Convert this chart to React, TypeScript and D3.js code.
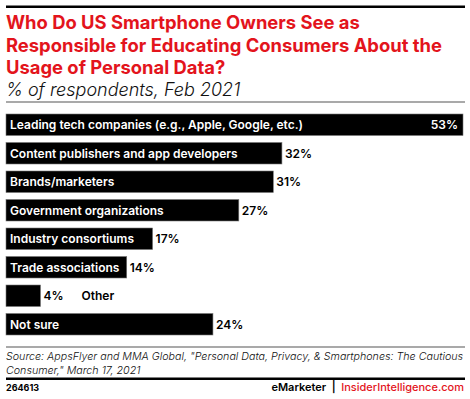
import { useEffect, useRef } from 'react'
import * as d3 from 'd3'

const TITLE_LINES = [
  'Who Do US Smartphone Owners See as',
  'Responsible for Educating Consumers About the',
  'Usage of Personal Data?',
]
const SUBTITLE = '% of respondents, Feb 2021'

const CATEGORIES = [
  'Leading tech companies (e.g., Apple, Google, etc.)',
  'Content publishers and app developers',
  'Brands/marketers',
  'Government organizations',
  'Industry consortiums',
  'Trade associations',
  'Other',
  'Not sure',
]
const VALUES = [53, 32, 31, 27, 17, 14, 4, 24]

const SOURCE_LINES = [
  'Source: AppsFlyer and MMA Global, "Personal Data, Privacy, & Smartphones: The Cautious',
  'Consumer," March 17, 2021',
]
const CHART_ID = '264613'

const W = 470
const H = 399
const RED = '#e3141c'
const FONT = 'Inter, Roboto, sans-serif'

export default function App() {
  const svgRef = useRef<SVGSVGElement>(null)

  useEffect(() => {
    if (!svgRef.current) return
    const svg = d3.select(svgRef.current)
    svg.selectAll('*').remove()

    // header rules
    svg.append('rect').attr('x', 6).attr('y', 5.5).attr('width', 459).attr('height', 2.5).attr('fill', '#000')

    svg.selectAll('text.title')
      .data(TITLE_LINES)
      .join('text')
      .attr('class', 'title')
      .attr('x', 6)
      .attr('y', (d, i) => 29 + i * 22.5)
      .attr('fill', RED)
      .attr('font-family', FONT)
      .attr('font-size', 18.4)
      .attr('font-weight', 700)
      .text((d) => d)

    svg.append('text')
      .attr('x', 6).attr('y', 96)
      .attr('font-family', FONT).attr('font-size', 18).attr('font-style', 'italic').attr('font-weight', 300)
      .attr('fill', '#111')
      .text(SUBTITLE)

    svg.append('rect').attr('x', 6).attr('y', 101.5).attr('width', 459).attr('height', 1).attr('fill', '#555')

    // bars
    const x = d3.scaleLinear().domain([0, d3.max(VALUES) as number]).range([6, 463])
    const y = d3.scaleBand().domain(CATEGORIES).range([114, 335]).paddingInner(0.2456).paddingOuter(0)

    const rows = CATEGORIES.map((c, i) => ({ cat: c, val: VALUES[i], inside: VALUES[i] >= 5 }))

    const g = svg.append('g')
    g.selectAll('rect.bar')
      .data(rows)
      .join('rect')
      .attr('class', 'bar')
      .attr('x', x(0))
      .attr('y', (d) => y(d.cat) as number)
      .attr('width', (d) => x(d.val) - x(0))
      .attr('height', y.bandwidth())
      .attr('fill', '#000')
      .attr('stroke', '#777')
      .attr('stroke-width', 0.6)

    // category labels inside bars
    g.selectAll('text.cat')
      .data(rows.filter((d) => d.inside))
      .join('text')
      .attr('class', 'cat')
      .attr('x', 10)
      .attr('y', (d) => (y(d.cat) as number) + y.bandwidth() / 2)
      .attr('dy', '0.36em')
      .attr('fill', '#fff')
      .attr('font-family', FONT).attr('font-size', 12).attr('font-weight', 600)
      .text((d) => d.cat)

    // value labels
    const maxVal = d3.max(VALUES) as number
    g.selectAll('text.val')
      .data(rows)
      .join('text')
      .attr('class', 'val')
      .attr('x', (d) => (d.val === maxVal ? x(d.val) - 5 : x(d.val) + 3))
      .attr('y', (d) => (y(d.cat) as number) + y.bandwidth() / 2)
      .attr('dy', '0.36em')
      .attr('text-anchor', (d) => (d.val === maxVal ? 'end' : 'start'))
      .attr('fill', (d) => (d.val === maxVal ? '#fff' : '#000'))
      .attr('font-family', FONT).attr('font-size', 12).attr('font-weight', 600)
      .text((d) => `${d.val}%`)

    // category labels outside short bars
    g.selectAll('text.catout')
      .data(rows.filter((d) => !d.inside))
      .join('text')
      .attr('class', 'catout')
      .attr('x', (d) => x(d.val) + 41)
      .attr('y', (d) => (y(d.cat) as number) + y.bandwidth() / 2)
      .attr('dy', '0.36em')
      .attr('fill', '#000')
      .attr('font-family', FONT).attr('font-size', 12).attr('font-weight', 600)
      .text((d) => d.cat)

    // footer
    svg.append('rect').attr('x', 6).attr('y', 346.5).attr('width', 459).attr('height', 1).attr('fill', '#555')
    svg.selectAll('text.src')
      .data(SOURCE_LINES)
      .join('text')
      .attr('class', 'src')
      .attr('x', 6)
      .attr('y', (d, i) => 360 + i * 13.5)
      .attr('font-family', FONT).attr('font-size', 10.7).attr('font-style', 'italic').attr('font-weight', 300)
      .attr('fill', '#111')
      .text((d) => d)
    svg.append('rect').attr('x', 6).attr('y', 377.5).attr('width', 459).attr('height', 2.5).attr('fill', '#000')

    svg.append('text')
      .attr('x', 6).attr('y', 391)
      .attr('font-family', FONT).attr('font-size', 9).attr('font-weight', 700)
      .text(CHART_ID)

    const brand = svg.append('text')
      .attr('x', 464).attr('y', 391)
      .attr('text-anchor', 'end')
      .style('white-space', 'pre')
      .attr('font-family', FONT).attr('font-size', 11).attr('font-weight', 600)
    brand.append('tspan').attr('fill', '#000').text('eMarketer')
    brand.append('tspan').attr('fill', '#000').text('  |  ')
    brand.append('tspan').attr('fill', RED).attr('font-weight', 500).text('InsiderIntelligence.com')
  }, [])

  return (
    <svg
      ref={svgRef}
      width={W}
      height={H}
      style={{ position: 'absolute', left: 0, top: 0, background: '#fff', display: 'block' }}
    />
  )
}
